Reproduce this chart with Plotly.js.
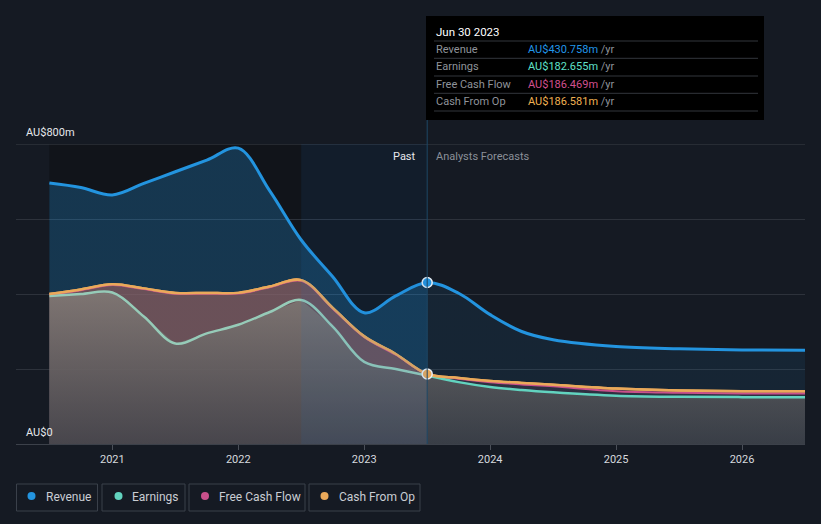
<!DOCTYPE html>
<html>
<head>
<meta charset="utf-8">
<script src="https://cdn.plot.ly/plotly-3.0.1.min.js"></script>
<style>
html,body{margin:0;padding:0;background:#151a23;}
#chart{width:821px;height:524px;}
</style>
</head>
<body>
<div id="chart"></div>
<script>
// ---- data (decimal years, quarter ends) ----
const dates = [2020.5, 2020.75, 2021.0, 2021.25, 2021.5, 2021.75, 2022.0, 2022.25, 2022.5, 2022.75, 2023.0, 2023.25, 2023.5,
               2023.75, 2024.0, 2024.25, 2024.5, 2025.0, 2025.5, 2026.0, 2026.5];
const revenue  = [696, 684, 664, 695, 726, 757, 789, 675, 544, 446, 350, 395, 430.758,
                  402, 345, 300, 278, 260, 254, 251, 250];
const earnings = [395, 400, 404, 340, 268, 295, 318, 352, 384, 313, 219, 200, 182.655,
                  165, 152, 144, 138, 129, 126, 125, 125];
const cashFromOp = [400, 412, 426, 415, 403, 403, 403, 420, 437, 363, 287, 240, 186.581,
                  176, 168, 163, 158, 148, 143, 141, 141];
const freeCashFlow = [398, 410, 424, 413, 401, 401, 401, 418, 435, 361, 285, 238, 186.469,
                  174, 165, 159, 154, 141, 137, 135, 135];
const seriesNames = ['Revenue', 'Earnings', 'Free Cash Flow', 'Cash From Op'];
const tickYears = [2021, 2022, 2023, 2024, 2025, 2026];
const yTickLabels = ['AU$0', 'AU$800m'];
const pastStart = 2022.5, pastEnd = 2023.5;
const hoverLabel = 'Jun 30 2023';

// ---- styling ----
const C = {rev:'#2394df', earn:'#62d3bf', earnPast:'#96cbb8', fcf:'#c9508b', cfo:'#eaa95a'};
const VC = {rev:'#2196e8', earn:'#5fe0c9', fcf:'#d2508f', cfo:'#f0b152'};
const FONT = 'Roboto, "Open Sans", sans-serif';
const px = x => (x - 16) / 789;
const py = y => (444 - y) / 300;
const hi = dates.indexOf(pastEnd);
const pastDates = dates.slice(0, hi + 1), foreDates = dates.slice(hi);

const traces = [
  {x: dates, y: revenue, type:'scatter', mode:'lines', line:{color:C.rev, width:3, shape:'spline'},
   fill:'tozeroy', fillcolor:'rgba(35,148,223,0.2)',
   fillgradient:{type:'horizontal', start:2020.5, stop:2026.5,
     colorscale:[[0,'rgba(35,148,223,0.27)'],[0.499,'rgba(35,148,223,0.27)'],[0.501,'rgba(35,148,223,0.09)'],[1,'rgba(35,148,223,0.09)']]},
   hoverinfo:'skip'},
  {x: dates, y: cashFromOp, type:'scatter', mode:'lines', line:{color:C.cfo, width:2.5, shape:'spline'},
   fill:'tozeroy', fillcolor:'rgba(142,92,88,0.7)',
   fillgradient:{type:'horizontal', start:2020.5, stop:2026.5,
     colorscale:[[0,'rgba(142,92,92,0.7)'],[0.499,'rgba(142,92,92,0.7)'],[0.501,'rgba(90,70,90,0.35)'],[1,'rgba(90,70,90,0.35)']]},
   hoverinfo:'skip'},
  {x: dates, y: freeCashFlow, type:'scatter', mode:'lines', line:{color:C.fcf, width:2, shape:'spline'},
   hoverinfo:'skip'},
  {x: dates, y: earnings, type:'scatter', mode:'none',
   fill:'tozeroy', fillcolor:'rgba(100,100,100,0.75)',
   fillgradient:{type:'vertical', start:0, stop:400,
     colorscale:[[0,'rgba(60,66,72,0.75)'],[1,'rgba(132,128,122,0.75)']]},
   hoverinfo:'skip'},
  {x: pastDates, y: earnings.slice(0, hi + 1), type:'scatter', mode:'lines', line:{color:C.earnPast, width:2.5, shape:'spline'}, hoverinfo:'skip'},
  {x: foreDates, y: earnings.slice(hi), type:'scatter', mode:'lines', line:{color:C.earn, width:2.5, shape:'spline'}, hoverinfo:'skip'},
  {x: dates, y: cashFromOp, type:'scatter', mode:'lines', line:{color:C.cfo, width:2.5, shape:'spline'}, hoverinfo:'skip'},
  {x:[dates[hi], dates[hi]], y:[revenue[hi], cashFromOp[hi]], type:'scatter', mode:'markers',
   marker:{size:10, color:[C.rev, C.cfo], line:{color:'#e8eef4', width:1.5}}, hoverinfo:'skip'}
];

const shapes = [
  {type:'rect', xref:'x', yref:'paper', x0:dates[0], x1:pastEnd, y0:0, y1:1, fillcolor:'#11141a', line:{width:0}, layer:'below'},
  {type:'line', xref:'paper', yref:'y', x0:0, x1:1, y0:800, y1:800, line:{color:'#3a3e46', width:1}, layer:'below'},
  {type:'rect', xref:'x', yref:'paper', x0:pastStart, x1:pastEnd, y0:0, y1:1, fillcolor:'rgba(30,120,200,0.10)', line:{width:0}, layer:'above'},
  {type:'line', xref:'x', yref:'paper', x0:pastEnd, x1:pastEnd, y0:0, y1:py(119), line:{color:'#1d4866', width:1}, layer:'above'},
  {type:'rect', xref:'paper', yref:'paper', x0:px(426), x1:px(764), y0:py(120), y1:py(16), fillcolor:'#000000', line:{width:0}}
];
[41, 58.3, 76, 93.3, 111].forEach(y => shapes.push({type:'line', xref:'paper', yref:'paper', x0:px(434), x1:px(758), y0:py(y), y1:py(y), line:{color:'#33363c', width:1}}));

const annotations = [
  {text:yTickLabels[1], x:px(24), y:py(132), xanchor:'left', yanchor:'middle'},
  {text:yTickLabels[0], x:px(24), y:py(432), xanchor:'left', yanchor:'middle'},
  {text:'Past', x:px(418), y:py(156), xanchor:'right', yanchor:'middle', font:{color:'#e6e8eb', size:11, family:FONT}},
  {text:'Analysts Forecasts', x:px(434), y:py(156), xanchor:'left', yanchor:'middle', font:{color:'#8b9099', size:11, family:FONT}},
  {text:hoverLabel, x:px(434), y:py(31.5), xanchor:'left', yanchor:'middle', font:{color:'#ffffff', size:11.5, family:FONT}}
].map(a => Object.assign({xref:'paper', yref:'paper', showarrow:false, font:{color:'#e6e8eb', size:11, family:FONT}}, a));

const rows = [
  [seriesNames[0], revenue[hi], VC.rev],
  [seriesNames[1], earnings[hi], VC.earn],
  [seriesNames[2], freeCashFlow[hi], VC.fcf],
  [seriesNames[3], cashFromOp[hi], VC.cfo]
];
const rowY = [49.5, 66.5, 84, 101];
rows.forEach((r, i) => {
  annotations.push({xref:'paper', yref:'paper', showarrow:false, x:px(434), y:py(rowY[i]), xanchor:'left', yanchor:'middle',
    text:r[0], font:{color:'#8f939a', size:11, family:FONT}});
  annotations.push({xref:'paper', yref:'paper', showarrow:false, x:px(526), y:py(rowY[i]), xanchor:'left', yanchor:'middle',
    text:'<span style="color:' + r[2] + '">AU$' + r[1].toFixed(3) + 'm</span> /yr', font:{color:'#8f939a', size:11, family:FONT}});
});

// legend boxes
const legBoxes = [[16.5, 97.5], [102, 185], [189, 305], [309, 420]];
const legDots = [31.5, 118.5, 205, 324.5];
const legText = [44, 130, 216.5, 337];
const legCols = [C.rev, C.earn, C.fcf, C.cfo];
seriesNames.forEach((name, i) => {
  shapes.push({type:'rect', xref:'paper', yref:'paper', x0:px(legBoxes[i][0]), x1:px(legBoxes[i][1]), y0:py(511), y1:py(484),
    line:{color:'#3a404a', width:1}, fillcolor:'rgba(0,0,0,0)'});
  shapes.push({type:'circle', xref:'paper', yref:'paper', x0:px(legDots[i]-4), x1:px(legDots[i]+4), y0:py(500), y1:py(492),
    line:{width:0}, fillcolor:legCols[i]});
  annotations.push({xref:'paper', yref:'paper', showarrow:false, x:px(legText[i]), y:py(496.5), xanchor:'left', yanchor:'middle',
    text:name, font:{color:'#c9cdd3', size:12, family:FONT}});
});

const layout = {
  width:821, height:524,
  margin:{l:16, r:16, t:144, b:80, pad:0},
  paper_bgcolor:'#151a23', plot_bgcolor:'rgba(0,0,0,0)',
  showlegend:false,
  font:{family:FONT, color:'#d0d3d8'},
  xaxis:{range:[2020.235, 2026.5], type:'linear', tickvals:tickYears, ticktext:tickYears.map(String),
    ticks:'outside', ticklen:5, tickcolor:'#4a4f58', tickwidth:1,
    showgrid:false, zeroline:false, showline:true, linecolor:'#3c414a', linewidth:1,
    tickfont:{size:11, color:'#d6d9de', family:FONT}, fixedrange:true},
  yaxis:{range:[0, 800], tickvals:[0, 200, 400, 600, 800], showticklabels:false, ticks:'',
    showgrid:true, gridcolor:'#2d323b', gridwidth:1, zeroline:false, showline:false, fixedrange:true},
  shapes:shapes,
  annotations:annotations
};

Plotly.newPlot('chart', traces, layout, {staticPlot:true, displayModeBar:false});
</script>
</body>
</html>
